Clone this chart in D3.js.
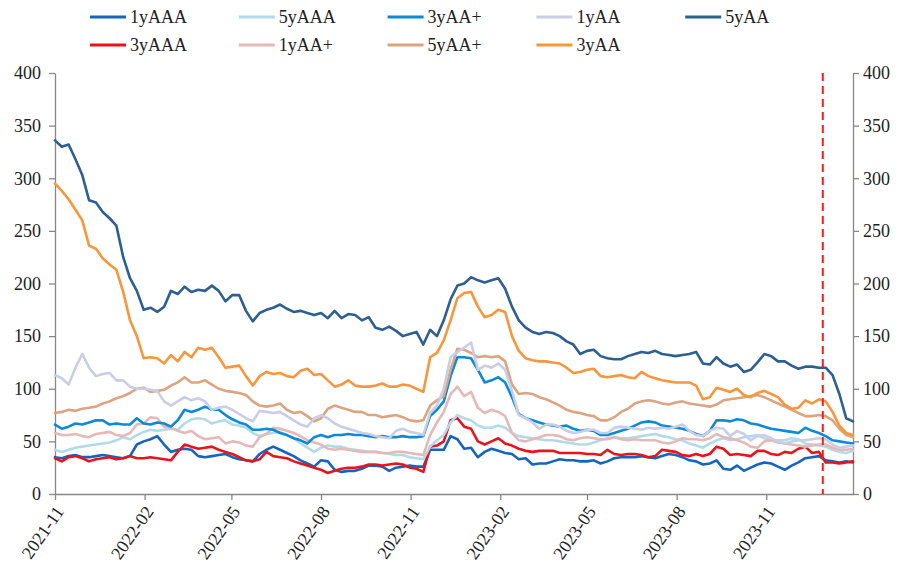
<!DOCTYPE html>
<html><head><meta charset="utf-8">
<script src="https://cdn.jsdelivr.net/npm/d3@7"></script>
<style>
body{margin:0;background:#fff}
svg{display:block}
text{font-family:"Liberation Serif","Times New Roman",serif;}
</style>
</head><body><svg id="chart" width="905" height="562"></svg>
<script>
// ---- data ----
const startDate = "2021-11-01";   // first weekly observation
const endDate = "2024-01-29";     // last weekly observation
const markerDate = "2023-12-29";  // red dashed line
const xTickLabels = ["2021-11","2022-02","2022-05","2022-08","2022-11","2023-02","2023-05","2023-08","2023-11"];
const yTicks = [0,50,100,150,200,250,300,350,400];

const seriesNames = ["1yAAA","3yAAA","5yAAA","1yAA+","3yAA+","5yAA+","1yAA","3yAA","5yAA"];
const seriesColors = ["#1565c0","#e8141c","#b2dbe8","#e6b8b7","#0b8ad6","#dca481","#c9cde6","#f7963c","#2d5f91"];

const s1yAAA = [35,34,36,37,35,35,36,37,36,35,
 34,36,47,50,52,55,47,40,42,43,
 42,36,35,36,37,38,35,33,32,31,
 38,42,45,42,39,36,32,29,26,32,
 31,23,21,22,22,24,27,27,26,22,
 25,26,27,26,26,42,42,42,55,52,
 43,44,35,40,43,41,39,38,33,34,
 28,29,29,31,33,32,32,31,31,32,
 29,31,34,35,35,35,36,35,34,36,
 38,37,35,32,31,28,29,32,24,23,
 27,22,25,28,30,29,26,23,27,30,
 34,35,36,32,31,30,31,30];
const s3yAAA = [34,31,35,36,34,31,33,34,35,33,
 34,36,34,34,35,34,33,32,40,47,
 45,43,44,45,42,40,38,35,32,31,
 33,40,36,35,34,31,29,27,25,23,
 20,22,24,25,25,26,28,28,27,28,
 29,28,25,24,21,45,46,50,70,72,
 64,62,50,47,50,53,48,46,43,41,
 40,41,41,41,39,39,39,39,38,38,
 37,42,38,37,38,38,37,35,36,42,
 41,40,37,36,38,36,38,45,43,37,
 38,37,36,41,41,38,37,40,39,43,
 45,39,40,30,30,29,30,31];
const s5yAAA = [42,40,42,44,45,46,47,48,49,51,
 54,52,56,59,61,60,61,62,61,67,
 71,72,71,67,69,70,66,65,63,58,
 55,57,58,59,56,53,48,44,40,44,
 46,45,45,43,42,41,40,40,39,38,
 37,37,35,34,33,45,51,56,68,75,
 72,70,65,63,63,65,63,58,55,54,
 53,52,51,51,50,49,48,47,47,49,
 51,53,54,53,53,54,55,56,57,55,
 54,52,51,48,46,44,48,51,53,51,
 52,54,55,56,53,51,51,51,53,52,
 48,47,46,45,42,40,39,41];
const s1yAAp = [58,56,56,57,55,54,57,58,59,56,
 55,58,66,67,73,72,64,63,60,58,
 60,55,52,53,54,48,50,49,46,45,
 54,57,63,62,60,58,55,51,49,47,
 43,42,43,42,41,40,40,40,39,39,
 40,40,39,38,37,56,68,78,95,102,
 93,97,82,77,80,78,74,58,51,50,
 52,54,56,56,55,52,51,53,54,53,
 52,52,54,52,51,52,51,51,51,49,
 48,50,53,52,52,51,53,57,54,53,
 51,49,45,44,50,51,49,48,47,46,
 45,46,47,47,44,42,42,43];
const s3yAAp = [66,62,64,67,66,68,70,70,66,67,
 66,66,72,67,66,68,67,64,70,80,
 78,80,83,80,80,75,71,68,66,61,
 61,62,61,58,56,53,51,48,54,56,
 54,56,56,57,56,56,55,54,55,54,
 54,55,54,54,55,74,80,88,112,130,
 130,129,118,106,108,111,106,92,76,72,
 70,68,66,65,64,65,62,60,61,60,
 56,56,58,60,62,65,68,69,68,65,
 64,63,62,60,57,55,60,70,70,69,
 71,70,67,66,64,62,61,60,59,58,
 63,60,58,55,51,50,49,48];
const s5yAAp = [77,78,80,79,81,82,83,86,88,91,
 93,96,100,101,97,98,99,103,106,111,
 106,106,108,104,100,98,97,96,94,88,
 84,83,84,86,80,77,78,74,69,72,
 81,84,82,80,78,78,75,75,73,74,
 75,73,70,69,70,84,89,93,118,138,
 137,134,130,131,130,131,126,104,95,96,
 95,92,90,87,84,80,78,77,75,74,
 70,70,73,78,81,86,88,89,88,86,
 85,87,88,86,85,84,83,85,89,90,
 91,92,93,94,92,89,86,83,80,77,
 74,74,75,74,70,62,56,54];
const s1yAA = [113,110,104,120,133,120,112,114,115,108,
 108,102,100,100,99,98,88,84,88,92,
 89,91,88,80,82,83,80,76,72,69,
 79,78,77,78,74,70,66,64,72,75,
 72,67,64,62,60,58,57,55,54,53,
 60,62,59,58,56,77,84,100,130,135,
 139,144,118,122,120,124,118,98,75,72,
 68,62,66,66,64,60,58,59,61,61,
 58,58,63,64,63,62,61,63,62,63,
 62,64,66,60,56,55,60,63,62,55,
 60,57,51,55,56,53,50,48,50,51,
 51,52,53,52,47,44,45,46];
const s3yAA = [295,288,280,270,260,236,233,224,218,213,
 192,165,150,129,130,129,124,132,126,135,
 130,139,137,139,130,120,121,122,112,103,
 112,116,114,115,112,111,117,119,113,114,
 108,102,104,108,103,102,102,103,105,102,
 102,104,103,100,97,130,134,146,165,186,
 191,192,178,168,170,175,173,150,136,129,
 127,126,126,125,124,120,115,116,118,119,
 112,111,112,113,111,110,116,112,110,108,
 107,106,106,106,103,90,92,101,99,97,
 100,94,92,96,98,95,92,85,81,82,
 89,86,90,88,78,65,58,56];
const s5yAA = [336,330,332,318,303,279,277,268,262,255,
 225,205,193,175,177,173,178,193,190,197,
 192,194,193,198,193,183,189,189,174,164,
 172,175,177,180,176,173,174,172,170,172,
 167,174,167,171,170,165,168,158,156,159,
 155,150,152,154,142,156,150,165,185,198,
 200,206,203,201,203,205,195,178,165,158,
 154,152,154,153,150,145,142,133,136,137,
 131,129,128,128,131,133,135,134,136,133,
 132,131,132,133,135,124,123,130,124,121,
 123,116,118,125,133,131,126,126,122,119,
 121,121,120,120,113,95,72,69];

const seriesValues = [s1yAAA,s3yAAA,s5yAAA,s1yAAp,s3yAAp,s5yAAp,s1yAA,s3yAA,s5yAA];

// ---- chart ----
const parse = d3.timeParse("%Y-%m-%d");
const parseM = d3.timeParse("%Y-%m");
const t0 = parse(startDate), t1 = parse(endDate);
const dates = d3.range(s5yAA.length).map(i => d3.timeDay.offset(t0, 7 * i));

const svg = d3.select("#chart");
const L = 55, R = 853, T = 73, B = 494;
const x = d3.scaleTime().domain([t0, t1]).range([L, R]);
const y = d3.scaleLinear().domain([0, 400]).range([B, T]);
const axisColor = "#878787";
const fontSize = 18;
const fontFamily = '"Liberation Serif","Times New Roman",serif';

function styleAxis(g){
  g.select(".domain").attr("stroke", axisColor).attr("stroke-width", 1.3);
  g.selectAll(".tick line").attr("stroke", axisColor).attr("stroke-width", 1.3);
  g.selectAll(".tick text").attr("fill", "#222").style("font-size", fontSize + "px")
    .style("font-family", fontFamily);
}

// left axis
svg.append("g").attr("transform", `translate(${L},0)`)
  .call(d3.axisLeft(y).tickValues(yTicks).tickSize(6).tickPadding(8).tickSizeOuter(0))
  .call(styleAxis);
// right axis
svg.append("g").attr("transform", `translate(${R},0)`)
  .call(d3.axisRight(y).tickValues(yTicks).tickSize(6).tickPadding(4).tickSizeOuter(0))
  .call(styleAxis);
// bottom axis
const xTickDates = xTickLabels.map(s => parseM(s));
const gx = svg.append("g").attr("transform", `translate(0,${B})`)
  .call(d3.axisBottom(x).tickValues(xTickDates).tickFormat(d3.timeFormat("%Y-%m")).tickSize(6).tickSizeOuter(0))
  .call(styleAxis);
gx.selectAll(".tick text")
  .attr("x", 0).attr("y", 0).attr("dy", "0.35em").attr("dx", 0)
  .attr("text-anchor", "end")
  .attr("transform", "translate(4,14) rotate(-55)");

// series lines
const line = d3.line().x((d, i) => x(dates[i])).y(d => y(d)).curve(d3.curveLinear);
const gl = svg.append("g");
seriesValues.forEach((vals, k) => {
  gl.append("path").datum(vals)
    .attr("d", line)
    .attr("fill", "none")
    .attr("stroke", seriesColors[k])
    .attr("stroke-width", 2.6)
    .attr("stroke-linejoin", "round")
    .attr("stroke-linecap", "round");
});

// dashed marker
const xm = x(parse(markerDate));
svg.append("line").attr("x1", xm).attr("x2", xm).attr("y1", y(400)).attr("y2", y(0))
  .attr("stroke", "#ff1a1a").attr("stroke-width", 2).attr("stroke-dasharray", "8,5");

// legend (column-major, 2 rows)
const lg = svg.append("g");
seriesNames.forEach((name, k) => {
  const col = Math.floor(k / 2), row = k % 2;
  const lx = 90 + col * 148.8, ly = 17 + row * 28;
  lg.append("line").attr("x1", lx).attr("x2", lx + 36).attr("y1", ly).attr("y2", ly)
    .attr("stroke", seriesColors[k]).attr("stroke-width", 3);
  lg.append("text").attr("x", lx + 40).attr("y", ly).attr("dy", "0.35em")
    .style("font-size", fontSize + "px").style("font-family", fontFamily)
    .attr("fill", "#222").text(name);
});
</script>
</body></html>
